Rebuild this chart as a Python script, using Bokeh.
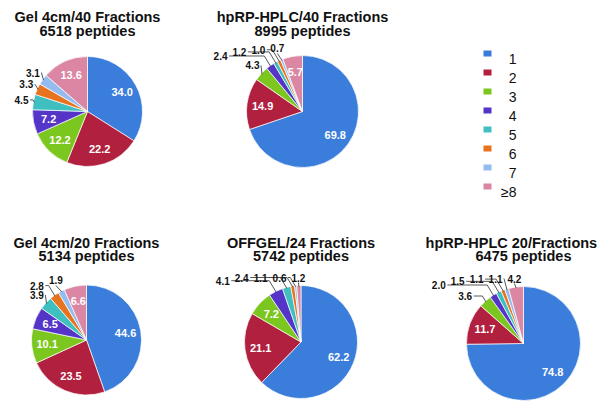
import numpy as np
from bokeh.plotting import figure
from bokeh.models import Range1d
from bokeh.core.properties import value
from bokeh.embed import file_html
from bokeh.resources import INLINE

# ---------------- data ----------------
categories = ["1", "2", "3", "4", "5", "6", "7", "\u22658"]
colors = ["#3b7ddb", "#b1203e", "#7cc620", "#5534c8", "#3fbfbf", "#e8731f", "#95bcf0", "#db87a4"]

titles = ["Gel 4cm/40 Fractions", "hpRP-HPLC/40 Fractions", "Gel 4cm/20 Fractions",
          "OFFGEL/24 Fractions", "hpRP-HPLC 20/Fractions"]
peptides = [6518, 8995, 5134, 5742, 6475]

gel40 = [34.0, 22.2, 12.2, 7.2, 4.5, 3.3, 3.1, 13.6]
hprp40 = [69.8, 14.9, 4.3, 2.4, 1.2, 1.0, 0.7, 5.7]
gel20 = [44.6, 23.5, 10.1, 6.5, 3.9, 2.8, 1.9, 6.6]
offgel24 = [62.2, 21.1, 7.2, 4.1, 2.4, 1.1, 0.6, 1.2]
hprp20 = [74.8, 11.7, 3.6, 2.0, 1.5, 1.1, 1.1, 4.2]
series = [gel40, hprp40, gel20, offgel24, hprp20]

# ---------------- layout (picture pixels, y downward) ----------------
W, H = 602, 405
centers = [(87, 111), (302, 111), (86, 339.5), (300.5, 341.5), (523, 343)]
radii = [55, 56, 55, 56.5, 57]
title_rows = [(16.8, 30.5), (16.8, 30.5), (242, 255.5), (242, 255.5), (242, 255.5)]
TITLE_FS = 14.5
INSIDE_MIN = 5.0
legend_sq_x, legend_txt_x, legend_y0, legend_step = 487, 516, 53, 19


def yd(py):
    return H - py


def text_w(s, fs):
    return sum(0.278 * fs if ch == "." else 0.556 * fs for ch in s)


p = figure(width=W, height=H, output_backend="svg", toolbar_location=None,
           x_range=Range1d(0, W), y_range=Range1d(0, H),
           x_axis_location=None, y_axis_location=None, min_border=0)
p.grid.visible = False
p.outline_line_color = None
p.background_fill_color = "white"
p.border_fill_color = "white"

bold = value("Liberation Sans")

for k, vals in enumerate(series):
    cx, cy = centers[k]
    r = radii[k]
    v = np.array(vals, dtype=float)
    cum = np.concatenate([[0.0], np.cumsum(v)]) / v.sum() * 360.0
    start = np.radians(90 - cum[:-1])
    end = np.radians(90 - cum[1:])
    p.wedge(x=[cx] * len(v), y=[yd(cy)] * len(v), radius=r, radius_units="screen",
            start_angle=start, end_angle=end, direction="clock",
            fill_color=colors, line_color="white", line_width=0.7)

    mid = np.radians((cum[:-1] + cum[1:]) / 2)
    dx, dy = np.sin(mid), -np.cos(mid)
    labels = [f"{x:.1f}" for x in v]

    # inside labels
    ins = [i for i in range(len(v)) if v[i] >= INSIDE_MIN]
    p.text(x=[cx + dx[i] * 0.72 * r for i in ins], y=[yd(cy + dy[i] * 0.72 * r) for i in ins],
           text=[labels[i] for i in ins], text_align="center", text_baseline="middle",
           text_font=bold, text_font_style="bold", text_font_size="11px", text_color="white")

    # outside labels with leaders
    outs = [i for i in range(len(v)) if v[i] < INSIDE_MIN]
    prev = None
    lxs, lys, ltx = [], [], []
    xs, ys = [], []
    top_row = cy - r - 8
    for i in reversed(outs):
        t = labels[i]
        w = text_w(t, 10)
        lx = cx + dx[i] * (r + 12)
        ly = max(cy + dy[i] * (r + 12), top_row)
        if prev is not None:
            sp = (prev[2] + w) / 2 + 5
            if abs(ly - prev[1]) < 9 and lx > prev[0] - sp:
                if ly > top_row + 10:
                    ly = prev[1] + 11
                    lx = lx - 12
                else:
                    lx = prev[0] - sp
        prev = (lx, ly, w)
        lxs.append(lx); lys.append(ly); ltx.append(t)
        ex, ey = cx + dx[i] * (r - 1), cy + dy[i] * (r - 1)
        if ex > lx + w / 2 + 2:
            sx_, sy_ = lx + w / 2 + 1.5, ly
            mx = max(sx_, ex - 0.6 * abs(ey - ly))
            pts = [(sx_, sy_), (mx, sy_), (ex, ey)]
        elif ex < lx - w / 2 - 2:
            sx_, sy_ = lx - w / 2 - 1.5, ly
            mx = min(sx_, ex + 0.6 * abs(ey - ly))
            pts = [(sx_, sy_), (mx, sy_), (ex, ey)]
        else:
            pts = [(lx, ly + 5), (ex, ey)]
        if np.hypot(pts[0][0] - ex, pts[0][1] - ey) > 3:
            xs.append([q[0] for q in pts])
            ys.append([yd(q[1]) for q in pts])
    if xs:
        p.multi_line(xs=xs, ys=ys, line_color="#444444", line_width=0.9)
    p.text(x=lxs, y=[yd(q) for q in lys], text=ltx, text_align="center", text_baseline="middle",
           text_font=bold, text_font_style="bold", text_font_size="10px", text_color="#111111")

    # titles
    lines = [titles[k], f"{peptides[k]} peptides"]
    for line, by in zip(lines, title_rows[k]):
        tw = 0.54 * TITLE_FS * len(line)
        tx = min(cx, 597 - tw / 2)
        p.text(x=[tx], y=[yd(by)], text=[line], text_align="center", text_baseline="alphabetic",
               text_font=bold, text_font_style="bold", text_font_size=f"{TITLE_FS}px",
               text_color="#111111")

# legend
ly_list = [legend_y0 + legend_step * i for i in range(len(categories))]
p.rect(x=[legend_sq_x] * len(categories), y=[yd(q) for q in ly_list], width=8, height=6,
       fill_color=colors, line_color=None)
p.text(x=[legend_txt_x] * len(categories), y=[yd(q + 5) for q in ly_list], text=categories,
       text_align="right", text_baseline="alphabetic", text_font=value("Liberation Sans"),
       text_font_size="14px", text_color="#111111")

open("out.html", "w").write(file_html(p, INLINE))
